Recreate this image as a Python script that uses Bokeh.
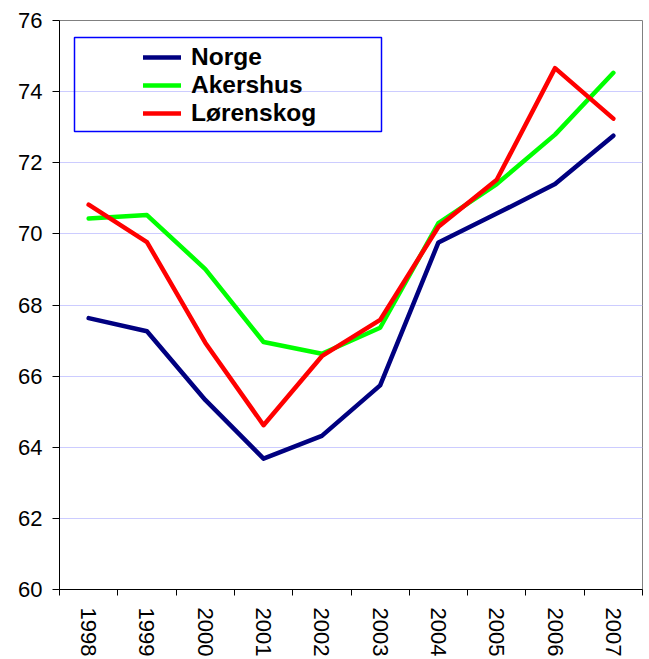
import math
from bokeh.plotting import figure
from bokeh.models import (Legend, LegendItem, FixedTicker, BoxAnnotation, Range1d)
from bokeh.embed import file_html
from bokeh.resources import INLINE

years = ["1998", "1999", "2000", "2001", "2002", "2003", "2004", "2005", "2006", "2007"]
norge = [67.63, 67.26, 65.33, 63.68, 64.32, 65.74, 69.76, 70.57, 71.40, 72.76]
akershus = [70.43, 70.53, 69.01, 66.96, 66.63, 67.36, 70.30, 71.40, 72.79, 74.53]
lorenskog = [70.82, 69.77, 66.94, 64.62, 66.56, 67.58, 70.20, 71.52, 74.66, 73.24]
series_names = ["Norge", "Akershus", "Lørenskog"]
series_colors = ["#000080", "#00ff00", "#ff0000"]
y_ticks = [60, 62, 64, 66, 68, 70, 72, 74, 76]

xpos = [i + 0.5 for i in range(len(years))]
FONT = "Liberation Sans"

p = figure(width=649, height=659, output_backend="svg", toolbar_location=None,
           x_range=Range1d(0, len(years)), y_range=Range1d(y_ticks[0], y_ticks[-1]),
           min_border_left=59, min_border_right=7, min_border_top=20, min_border_bottom=70)
p.background_fill_color = "white"
p.border_fill_color = "white"
p.outline_line_color = "#808080"
p.outline_line_width = 1

renderers = []
for vals, col in zip([norge, akershus, lorenskog], series_colors):
    r = p.line(xpos, vals, line_color=col, line_width=4.5, line_cap="round", line_join="round")
    renderers.append(r)

# x axis
xa = p.xaxis[0]
xa.ticker = FixedTicker(ticks=xpos, minor_ticks=list(range(len(years) + 1)))
xa.major_label_overrides = {x: y for x, y in zip(xpos, years)}
xa.major_tick_out = 0
xa.major_tick_in = 0
xa.minor_tick_out = 6
xa.minor_tick_in = 0
xa.minor_tick_line_color = "black"
xa.axis_line_color = "black"
xa.major_label_orientation = -math.pi / 2
xa.major_label_text_font = FONT
xa.major_label_text_font_size = "22px"
xa.major_label_text_color = "black"
xa.major_label_standoff = 12

# y axis
ya = p.yaxis[0]
ya.ticker = FixedTicker(ticks=y_ticks)
ya.major_tick_out = 7
ya.major_tick_in = 0
ya.minor_tick_line_color = None
ya.axis_line_color = "black"
ya.major_tick_line_color = "black"
ya.major_label_text_font = FONT
ya.major_label_text_font_size = "22px"
ya.major_label_text_color = "black"
ya.major_label_standoff = 10

p.xgrid.grid_line_color = None
p.ygrid.grid_line_color = "#ccccff"
p.ygrid.grid_line_width = 1

box = BoxAnnotation(left=15, right=322, bottom=458, top=552,
                    left_units="screen", right_units="screen",
                    bottom_units="screen", top_units="screen",
                    fill_color=None, fill_alpha=0, line_color="#0000ff",
                    line_alpha=1.0, line_width=1.5)
p.add_layout(box)

legend = Legend(items=[LegendItem(label=n, renderers=[r]) for n, r in zip(series_names, renderers)],
                location=(84, 462), padding=0, margin=0, spacing=0,
                label_height=26, glyph_height=26, glyph_width=38, label_standoff=10,
                label_text_font=FONT, label_text_font_size="24.5px", label_text_font_style="bold",
                label_text_color="black", border_line_color=None, background_fill_alpha=0)
p.add_layout(legend)

open("out.html", "w").write(file_html(p, INLINE))
